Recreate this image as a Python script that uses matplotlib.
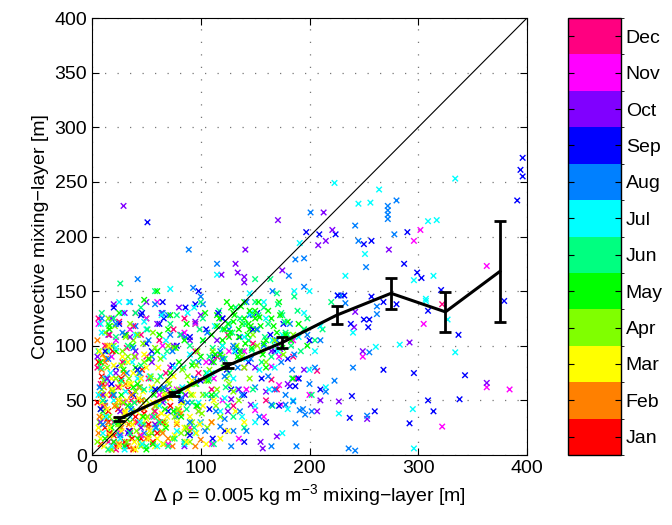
import numpy as np
import matplotlib
matplotlib.use("Agg")
import matplotlib.pyplot as plt
from matplotlib.colors import ListedColormap, BoundaryNorm

plt.rcParams['font.family'] = ['Liberation Sans', 'DejaVu Sans']
plt.rcParams['mathtext.fontset'] = 'custom'
plt.rcParams['mathtext.rm'] = 'Liberation Sans'
plt.rcParams['mathtext.it'] = 'Liberation Sans:italic'
plt.rcParams['font.size'] = 14

months = ['Jan', 'Feb', 'Mar', 'Apr', 'May', 'Jun',
          'Jul', 'Aug', 'Sep', 'Oct', 'Nov', 'Dec']
month_colors = ['#FF0000', '#FF8000', '#FFFF00', '#80FF00', '#00FF00', '#00FF80',
                '#00FFFF', '#0080FF', '#0000FF', '#8000FF', '#FF00FF', '#FF0080']

# points, per month
jan_x = [8, 12, 15, 20, 25, 30, 35, 18, 40, 45, 10, 22, 28, 52, 14, 33, 60, 38,
         5, 9, 16, 24, 32, 42, 48, 56, 65, 72, 6, 27, 37, 46, 19]
jan_y = [10, 25, 40, 18, 30, 12, 22, 55, 35, 15, 65, 8, 48, 28, 33, 60, 20, 5,
         48, 72, 20, 42, 8, 50, 38, 12, 30, 45, 85, 70, 15, 78, 95]

feb_x = [6, 9, 12, 15, 18, 20, 24, 27, 30, 33, 36, 40, 44, 48, 52, 56, 60, 65, 70, 78,
         10, 14, 22, 31, 38, 46, 12, 8, 18, 26, 85, 95,
         7, 11, 16, 21, 25, 29, 34, 39, 43, 50, 58, 63, 68, 74, 82, 90, 100, 110, 5, 13]
feb_y = [20, 78, 45, 30, 60, 12, 50, 25, 40, 8, 55, 30, 18, 42, 25, 10, 35, 20, 15, 28,
         92, 100, 70, 65, 6, 50, 85, 55, 5, 33, 12, 8,
         35, 62, 18, 45, 10, 75, 28, 48, 62, 15, 45, 30, 52, 8, 38, 22, 14, 30, 105, 88]

mar_x = [8, 10, 13, 16, 18, 21, 24, 26, 29, 32, 35, 38, 41, 44, 47, 50, 53, 56, 60, 64,
         68, 72, 76, 80, 85, 90, 96, 102, 110, 12, 20, 28, 36, 45, 55, 66, 15, 25, 40, 58,
         70, 88, 30, 50, 118,
         6, 9, 11, 14, 17, 19, 22, 25, 27, 31, 34, 37, 39, 43, 46, 49, 52, 55, 58, 62,
         65, 69, 73, 78, 82, 87, 93, 99, 105, 112, 125, 132, 7, 16, 33, 48, 61, 75, 92, 140]
mar_y = [15, 35, 55, 25, 70, 45, 12, 62, 30, 50, 20, 75, 40, 10, 58, 33, 22, 48, 15, 38,
         28, 52, 18, 42, 25, 35, 20, 45, 30, 88, 82, 90, 65, 70, 62, 55, 5, 8, 5, 8,
         68, 60, 38, 80, 15,
         25, 48, 8, 42, 18, 60, 32, 50, 22, 40, 65, 28, 12, 52, 35, 45, 15, 62, 28, 48,
         10, 35, 58, 30, 48, 12, 55, 28, 10, 50, 22, 40, 95, 100, 85, 92, 80, 72, 68, 30]

apr_x = [7, 10, 14, 17, 20, 23, 26, 30, 33, 36, 40, 43, 46, 50, 53, 57, 60, 64, 68, 72,
         76, 80, 84, 88, 92, 97, 102, 108, 114, 120, 126, 133, 140, 148, 156, 12, 18, 25, 32, 38,
         45, 52, 58, 66, 74, 82, 90, 98, 106, 115, 124, 135, 9, 28, 48, 70, 95, 62, 42, 22,
         5, 8, 11, 13, 16, 19, 21, 24, 27, 29, 31, 34, 37, 39, 41, 44, 47, 51, 54, 56,
         59, 63, 67, 71, 75, 79, 83, 87, 91, 96, 101, 105, 111, 118, 122, 130, 138, 145, 152, 160,
         168, 176, 185, 15, 35]
apr_y = [30, 55, 80, 20, 100, 45, 65, 35, 90, 15, 58, 75, 28, 50, 88, 40, 68, 22, 55, 80,
         35, 60, 48, 72, 30, 95, 55, 78, 45, 90, 65, 100, 80, 110, 95, 112, 5, 25, 12, 105,
         8, 18, 98, 10, 15, 20, 12, 40, 25, 60, 70, 50, 60, 95, 85, 100, 65, 110, 110, 70,
         12, 42, 68, 95, 35, 58, 118, 28, 82, 48, 108, 70, 40, 90, 22, 62, 102, 35, 72, 112,
         45, 88, 30, 65, 98, 42, 78, 25, 55, 82, 38, 68, 95, 35, 80, 58, 90, 70, 100, 85,
         105, 92, 110, 125, 120]

may_x = [10, 14, 18, 22, 27, 31, 35, 40, 45, 50, 55, 60, 65, 70, 75, 80, 85, 90, 95, 100,
         105, 110, 115, 120, 125, 130, 135, 140, 145, 150, 155, 160, 165, 170, 175, 180, 118, 122, 128, 132,
         138, 143, 148, 153, 158, 126, 136, 146, 112, 104, 20, 30, 42, 56, 68, 82, 96, 110, 25, 48,
         72, 50, 88, 160, 185, 195, 172, 60, 38, 16,
         8, 12, 16, 20, 24, 29, 33, 37, 42, 47, 52, 57, 62, 67, 72, 77, 82, 87, 92, 97,
         102, 107, 113, 117, 121, 124, 127, 131, 134, 137, 141, 144, 147, 151, 154, 157, 162, 167, 173, 178,
         183, 190, 198, 115, 130, 140, 150, 120, 135, 145]
may_y = [40, 70, 25, 95, 55, 110, 30, 80, 50, 125, 20, 95, 60, 115, 40, 85, 105, 65, 120, 90,
         75, 110, 128, 100, 120, 130, 108, 125, 115, 132, 118, 105, 125, 112, 98, 122, 92, 115, 135, 98,
         120, 110, 128, 140, 102, 108, 95, 118, 85, 130, 12, 8, 15, 10, 25, 35, 45, 55, 130, 142,
         128, 5, 20, 80, 70, 115, 140, 150, 62, 118,
         85, 15, 115, 55, 30, 78, 45, 100, 65, 35, 88, 55, 110, 42, 75, 98, 58, 120, 82, 45,
         105, 68, 92, 125, 80, 140, 112, 128, 90, 136, 102, 120, 98, 115, 126, 92, 132, 118, 128, 110,
         105, 120, 100, 118, 122, 140, 125, 105, 115, 132]

jun_x = [12, 18, 24, 30, 36, 42, 48, 54, 60, 66, 72, 78, 84, 90, 96, 102, 108, 114, 120, 126,
         132, 138, 144, 150, 156, 162, 168, 174, 180, 186, 192, 198, 205, 212, 220, 26, 40, 58, 76, 94,
         112, 130, 148, 166, 184, 202, 150, 164, 170, 178, 15, 50, 85, 125, 140, 100, 70, 45, 20, 8,
         6, 10, 15, 21, 27, 33, 39, 45, 51, 57, 63, 69, 75, 81, 87, 93, 99, 105, 111, 117,
         123, 129, 135, 141, 147, 153, 159, 165, 171, 177, 183, 189, 195, 9, 22, 35, 48, 62, 78, 92,
         108, 122, 136, 158, 175]
jun_y = [35, 60, 20, 85, 45, 110, 28, 70, 95, 50, 120, 40, 80, 100, 65, 125, 90, 55, 115, 75,
         135, 95, 105, 140, 85, 120, 100, 130, 110, 145, 95, 125, 105, 115, 140, 157, 130, 150, 15, 25,
         10, 35, 60, 45, 70, 55, 161, 161, 148, 112, 5, 8, 12, 45, 25, 140, 8, 135, 125, 80,
         95, 50, 120, 30, 68, 100, 48, 82, 115, 35, 72, 95, 58, 110, 42, 85, 115, 55, 98, 132,
         62, 112, 88, 120, 96, 128, 108, 90, 138, 122, 100, 132, 115, 130, 108, 20, 60, 30, 128, 48,
         70, 88, 125, 135, 128]

jul_x = [10, 15, 20, 28, 35, 42, 50, 58, 66, 72, 80, 88, 95, 102, 110, 118, 126, 134, 142, 150,
         158, 166, 175, 185, 195, 205, 215, 227, 233, 245, 251, 256, 264, 296, 309, 317, 295, 314, 307, 307,
         327, 334, 296, 261, 283, 223, 334, 191, 175, 160, 145, 130, 115, 60, 40, 25, 85, 120, 150, 200,
         12, 30, 55, 100, 240,
         6, 9, 13, 17, 22, 26, 31, 37, 44, 48, 53, 62, 68, 76, 83, 90, 98, 106, 113, 122,
         131, 138, 146, 154, 163, 171, 180, 190, 200, 210, 8, 18, 34, 46, 64, 78, 94, 140, 168, 186]
jul_y = [20, 95, 50, 130, 35, 70, 115, 25, 90, 152, 55, 130, 20, 105, 75, 40, 120, 60, 88, 30,
         140, 105, 20, 50, 130, 95, 62, 38, 164, 230, 184, 231, 243, 160, 214, 215, 42, 164, 143, 141,
         124, 94, 6, 99, 101, 249, 253, 194, 110, 125, 148, 70, 165, 8, 110, 140, 10, 100, 45, 150,
         70, 5, 60, 30, 112,
         55, 112, 35, 75, 98, 15, 58, 85, 30, 122, 72, 45, 105, 80, 62, 92, 48, 75, 118, 52,
         95, 35, 130, 78, 60, 95, 42, 108, 78, 118, 120, 8, 140, 10, 128, 22, 135, 108, 80, 150]

aug_x = [12, 18, 25, 32, 40, 48, 55, 62, 70, 78, 86, 94, 102, 110, 118, 126, 134, 142, 150, 158,
         166, 174, 182, 190, 198, 42, 89, 93, 115, 181, 187, 195, 195, 201, 242, 245, 252, 272, 272, 272,
         272, 280, 278, 229, 226, 233, 262, 262, 255, 223, 200, 202, 185, 178, 165, 191, 196, 187, 142, 130,
         122, 118, 128, 165, 188, 240, 253, 236, 242, 35, 65, 22, 100, 145, 210,
         7, 10, 15, 20, 28, 36, 44, 52, 59, 66, 74, 82, 90, 98, 106, 114, 122, 130, 138, 146,
         154, 162, 170, 178, 186, 194, 205, 215, 9, 26, 38, 58, 72, 88, 104, 120, 136, 152, 168, 184]
aug_y = [48, 100, 30, 75, 118, 20, 90, 60, 128, 35, 108, 70, 138, 52, 95, 115, 80, 140, 62, 100,
         150, 85, 120, 70, 110, 161, 188, 153, 175, 164, 179, 180, 154, 222, 210, 196, 172, 228, 224, 220,
         216, 233, 202, 146, 146, 139, 136, 129, 94, 68, 65, 40, 49, 46, 46, 41, 37, 29, 22, 22,
         33, 26, 8, 8, 8, 80, 36, 6, 4, 140, 130, 120, 145, 128, 105,
         62, 28, 88, 55, 112, 42, 75, 105, 25, 62, 95, 52, 30, 85, 112, 40, 72, 100, 55, 88,
         35, 72, 105, 55, 92, 42, 80, 58, 125, 18, 98, 138, 110, 48, 22, 88, 40, 115, 60, 78]

sep_x = [15, 22, 30, 38, 46, 51, 55, 62, 70, 78, 86, 94, 98, 105, 112, 120, 128, 136, 144, 152,
         160, 168, 176, 182, 187, 197, 209, 224, 250, 257, 287, 290, 299, 303, 321, 309, 337, 343, 338, 314,
         292, 260, 237, 239, 268, 296, 309, 268, 280, 257, 250, 255, 254, 238, 226, 232, 379, 396, 394, 396,
         391, 122, 111, 140, 90,
         8, 12, 18, 25, 34, 42, 50, 58, 66, 74, 82, 90, 100, 108, 116, 124, 132, 140, 148, 156,
         164, 172, 180, 190, 200, 210, 20, 45, 65, 95]
sep_y = [30, 80, 110, 55, 130, 213, 95, 120, 40, 100, 135, 70, 150, 115, 90, 125, 60, 108, 85, 130,
         30, 95, 120, 63, 63, 204, 202, 202, 193, 196, 175, 204, 167, 162, 151, 132, 110, 73, 51, 40,
         29, 40, 34, 54, 78, 75, 50, 140, 138, 145, 124, 124, 117, 120, 146, 146, 141, 272, 261, 255,
         233, 22, 15, 12, 18,
         42, 95, 65, 120, 22, 78, 102, 60, 125, 82, 50, 108, 68, 42, 130, 78, 95, 55, 115, 70,
         110, 45, 88, 70, 105, 60, 135, 128, 140, 138]

oct_x = [29, 8, 15, 22, 30, 40, 50, 60, 70, 80, 90, 100, 110, 120, 132, 134, 140, 140, 141, 119,
         171, 175, 173, 160, 146, 155, 157, 170, 213, 221, 215, 208, 273, 292, 242, 241, 227, 249, 253, 207,
         363, 128, 85, 45, 65,
         5, 10, 18, 26, 35, 44, 55, 64, 75, 86, 95, 105, 115, 125, 135, 150, 165, 180, 195, 210,
         14, 33, 58, 82, 20]
oct_y = [228, 30, 110, 75, 130, 95, 140, 120, 60, 135, 105, 128, 85, 125, 175, 167, 158, 163, 188, 165,
         215, 169, 97, 58, 46, 12, 6, 17, 222, 206, 196, 192, 188, 103, 131, 117, 49, 95, 33, 40,
         66, 51, 8, 25, 48,
         90, 55, 125, 40, 108, 62, 85, 130, 100, 55, 122, 70, 105, 40, 60, 80, 95, 65, 78, 50,
         70, 20, 28, 110, 138]

nov_x = [10, 18, 26, 35, 45, 55, 65, 78, 90, 105, 120, 135, 150, 165, 172, 174, 249, 302, 296, 363,
         305, 363, 384, 322, 140, 110, 60, 30, 200, 185,
         6, 14, 22, 30, 40, 50, 62, 72, 85, 98, 112, 126, 142, 158, 172, 188, 20, 45, 70, 95]
nov_y = [45, 90, 20, 115, 70, 35, 100, 60, 25, 85, 50, 15, 41, 81, 64, 46, 90, 206, 196, 173,
         120, 62, 60, 26, 95, 10, 140, 8, 55, 105,
         120, 65, 105, 48, 90, 125, 55, 80, 112, 40, 70, 95, 60, 35, 90, 70, 12, 18, 10, 120]

dec_x = [8, 12, 20, 28, 36, 45, 55, 68, 80, 95, 110, 125, 140, 165, 207, 322, 15, 25, 50, 75,
         100, 160, 185, 22, 40,
         5, 10, 16, 24, 32, 42, 52, 62, 72, 85, 98, 115, 130, 148, 170, 6, 18, 38, 58, 88]
dec_y = [65, 100, 30, 85, 50, 110, 20, 75, 40, 95, 60, 110, 80, 69, 77, 138, 12, 122, 90, 115,
         30, 50, 90, 5, 130,
         80, 45, 110, 62, 98, 30, 70, 105, 55, 125, 75, 90, 45, 102, 60, 125, 55, 118, 40, 20]

# bin means with error bars
bin_x = [25, 75, 125, 175, 225, 275, 325, 375]
bin_y = [33, 56, 82, 103, 128, 148, 131, 168]
bin_err = [2, 2, 2, 5, 8, 14, 18, 46]

all_x = [jan_x, feb_x, mar_x, apr_x, may_x, jun_x, jul_x, aug_x, sep_x, oct_x, nov_x, dec_x]
all_y = [jan_y, feb_y, mar_y, apr_y, may_y, jun_y, jul_y, aug_y, sep_y, oct_y, nov_y, dec_y]
for m, (xs, ys) in enumerate(zip(all_x, all_y)):
    if len(xs) != len(ys):
        raise ValueError(f"{months[m]}: {len(xs)} x vs {len(ys)} y")

# interleave months so no single month sits on top of everything
px, py, pm, order = [], [], [], []
for m, (xs, ys) in enumerate(zip(all_x, all_y)):
    for i, (a, b) in enumerate(zip(xs, ys)):
        px.append(a); py.append(b); pm.append(m + 1); order.append(i * 12 + (m * 5) % 12)
idx = np.argsort(order, kind='stable')
px = np.array(px)[idx]; py = np.array(py)[idx]; pm = np.array(pm)[idx]

cmap = ListedColormap(month_colors)
norm = BoundaryNorm(np.arange(0.5, 13.5, 1), cmap.N)

fig = plt.figure(figsize=(6.72, 5.25), dpi=100)
ax = fig.add_axes([92 / 672, 70 / 525, 435 / 672, 437 / 525])

sc = ax.scatter(px, py, c=pm, cmap=cmap, norm=norm, marker='x', s=16, linewidths=1.0, zorder=2)
ax.plot([0, 400], [0, 400], color='k', lw=0.8, zorder=3)
ax.errorbar(bin_x, bin_y, yerr=bin_err, color='k', lw=2.2, elinewidth=2, capsize=4,
            capthick=2, zorder=4)

ax.set_xlim(0, 400)
ax.set_ylim(0, 400)
ax.set_xticks(np.arange(0, 401, 100))
ax.set_yticks(np.arange(0, 401, 50))
ax.grid(True, linestyle=(0, (1, 9)), color='#777777', lw=0.9)
ax.set_axisbelow(True)
ax.tick_params(direction='in', top=True, right=True, length=5, width=0.8, labelsize=14)
for s in ax.spines.values():
    s.set_linewidth(0.8)
ax.set_ylabel('Convective mixing\u2212layer [m]', fontsize=14)
ax.set_xlabel('\u0394 \u03c1 = 0.005 kg m$^{\\mathrm{-3}}$ mixing\u2212layer [m]', fontsize=14)

cax = fig.add_axes([568 / 672, 70 / 525, 53 / 672, 437 / 525])
cb = fig.colorbar(sc, cax=cax, ticks=np.arange(1, 13))
cb.ax.set_yticklabels(months)
cb.ax.tick_params(direction='in', left=True, right=True, length=4, width=0.8, labelsize=14)
cb.outline.set_linewidth(1.0)

fig.savefig('out.png', dpi=100)
